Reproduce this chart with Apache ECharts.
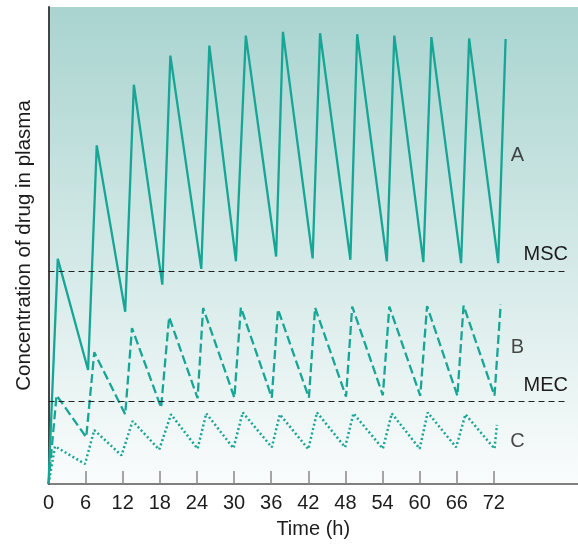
<!DOCTYPE html>
<html>
<head>
<meta charset="utf-8">
<script src="https://cdn.jsdelivr.net/npm/echarts@6/dist/echarts.min.js"></script>
<style>html,body{margin:0;padding:0;background:#fff}#c{width:578px;height:544px}</style>
</head>
<body>
<div id="c"></div>
<script>
// Time (h) and concentration values (arbitrary units, axis 0-100)
const seriesA = [[0,0],[1.5,47.2],[6.4,23.9],[7.8,71.0],[12.4,36.1],[13.8,83.7],[18.4,41.8],[19.7,89.8],[24.7,45.1],[26.0,91.9],[30.3,46.7],[31.9,94.0],[36.8,47.7],[37.9,94.8],[42.7,47.3],[43.9,94.5],[48.8,47.0],[49.9,94.3],[54.7,46.7],[55.9,94.0],[60.6,46.5],[61.9,93.7],[66.7,46.3],[68.0,93.4],[72.7,46.3],[73.9,93.3]];
const seriesB = [[0,0],[1.3,18.6],[6.1,9.8],[7.4,27.6],[12.4,14.6],[13.5,32.7],[18.2,16.0],[19.5,35.0],[24.1,18.0],[25.0,36.9],[30.05,18.1],[31.1,37.0],[36.1,18.1],[37.1,36.6],[42.1,18.1],[43.1,37.0],[48.1,18.3],[49.1,37.2],[54.05,18.6],[55.1,37.2],[60.1,18.5],[61.2,37.3],[66.1,18.5],[67.1,37.4],[72.1,18.5],[73.1,37.6]];
const seriesC = [[0,0],[1.05,7.9],[5.9,4.2],[7.4,11.3],[11.8,6.0],[13.6,13.2],[17.9,7.2],[19.8,14.6],[24.1,7.4],[25.5,14.8],[29.9,7.5],[31.4,15.0],[36.1,7.7],[37.4,14.6],[42.0,7.3],[43.4,15.0],[47.95,7.7],[49.3,14.8],[54.05,7.4],[55.5,14.8],[60.0,7.4],[61.3,15.0],[65.9,7.7],[67.4,14.6],[72.1,7.4],[72.5,12.4]];
const MSC = 44.7;
const MEC = 17.3;
const thresholdEnd = 83.5;
const tickValues = [0,6,12,18,24,30,36,42,48,54,60,66,72];
const curveLabels = [[75.8,68.8,'A'],[75.8,28.6,'B'],[75.8,9.0,'C']];

const teal = '#17a596';
const textColor = '#1d1b1c';
const font = 'Liberation Sans, Arial, sans-serif';

const chart = echarts.init(document.getElementById('c'), null, {renderer:'canvas'});
chart.setOption({
  animation:false,
  backgroundColor:'#ffffff',
  grid:{left:48.5, right:0, top:7, bottom:58, show:true, borderWidth:0,
    backgroundColor:new echarts.graphic.LinearGradient(0,0,0,1,[{offset:0,color:'#a9d4d0'},{offset:1,color:'#fafcfc'}])},
  xAxis:{type:'value', min:0, max:85.6,
    name:'Time (h)', nameLocation:'middle', nameGap:35,
    nameTextStyle:{fontSize:20, color:textColor, fontFamily:font},
    axisLine:{lineStyle:{color:'#555', width:1.5}},
    axisTick:{show:true, inside:true, length:13, customValues:tickValues, lineStyle:{color:'#888', width:1.5}},
    axisLabel:{customValues:tickValues, fontSize:20, color:textColor, fontFamily:font, margin:9},
    splitLine:{show:false}},
  yAxis:{type:'value', min:0, max:100,
    name:'Concentration of drug in plasma', nameLocation:'middle', nameGap:14, nameRotate:90,
    nameTextStyle:{fontSize:20.5, color:textColor, fontFamily:font},
    axisLine:{show:true, lineStyle:{color:'#444', width:2}},
    axisTick:{show:false}, axisLabel:{show:false}, splitLine:{show:false}},
  series:[
    {type:'line', data:seriesA, symbol:'none', lineStyle:{color:teal, width:2.3}, z:3,
     markLine:{silent:true, symbol:'none',
       lineStyle:{color:'#222', type:[6,4], width:1.2},
       label:{show:true, position:'insideEndTop', distance:[-3,6], formatter:'MSC', fontSize:20, color:textColor, fontFamily:font},
       data:[[{coord:[0,MSC]},{coord:[thresholdEnd,MSC]}]]}},
    {type:'line', data:seriesB, symbol:'none', lineStyle:{color:teal, width:2.3, type:[9,4]}, z:3,
     markLine:{silent:true, symbol:'none',
       lineStyle:{color:'#222', type:[6,4], width:1.2},
       label:{show:true, position:'insideEndTop', distance:[-3,6], formatter:'MEC', fontSize:20, color:textColor, fontFamily:font},
       data:[[{coord:[0,MEC]},{coord:[thresholdEnd,MEC]}]]}},
    {type:'line', data:seriesC, symbol:'none', lineStyle:{color:teal, width:2.5, type:[2,2.5]}, z:3},
    {type:'scatter', data:curveLabels, symbolSize:0, silent:true,
     label:{show:true, position:'inside', formatter:p=>p.data[2], fontSize:20, color:textColor, fontFamily:font}}
  ]
});
</script>
</body>
</html>
